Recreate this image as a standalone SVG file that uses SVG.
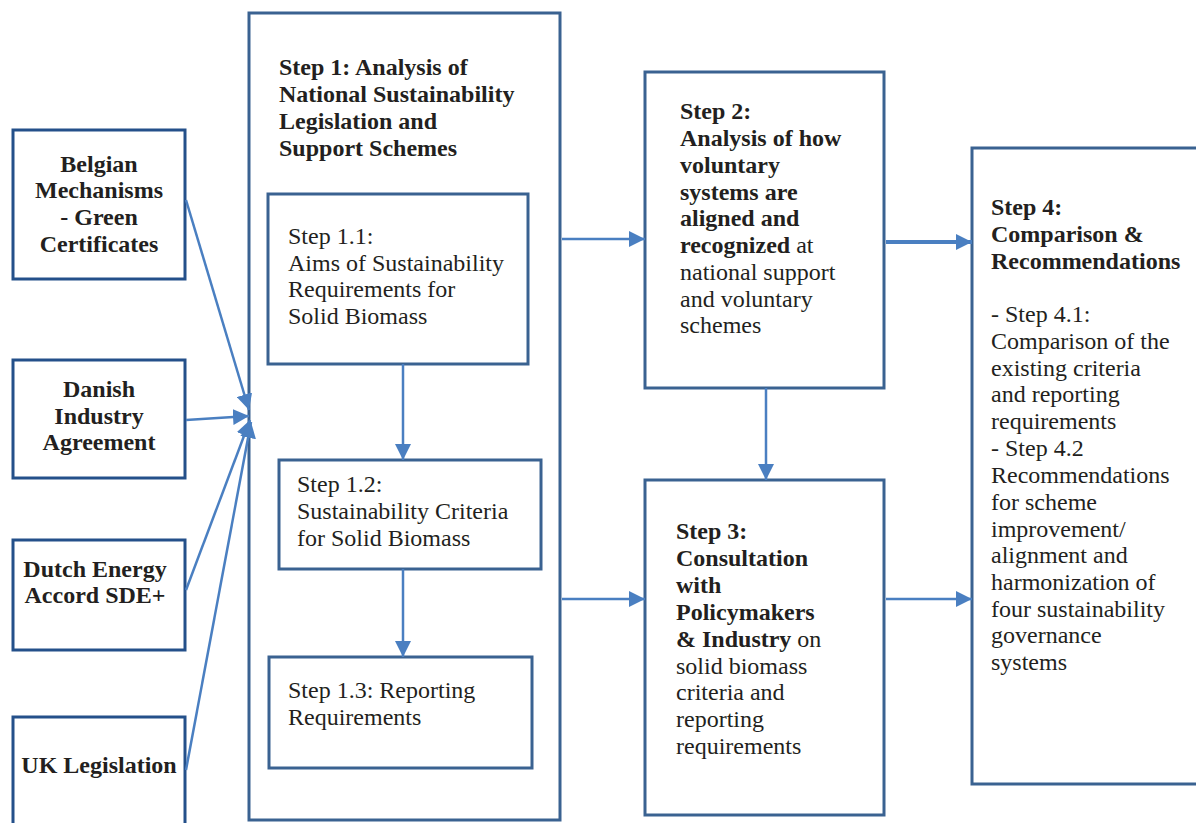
<svg xmlns="http://www.w3.org/2000/svg" width="1196" height="823" viewBox="0 0 1196 823">
<defs>
<style>
.box{fill:#fff;stroke:#3a6291;stroke-width:3}
.src{fill:#fff;stroke:#24508a;stroke-width:3}
.c{stroke:#4a7fc1;stroke-width:2.5;fill:none;marker-end:url(#ah)}
text{font-family:"Liberation Serif","Times New Roman",serif;font-size:24px;fill:#231f20}
.b{font-weight:bold}
.m{text-anchor:middle}
</style>
<marker id="ah" markerUnits="userSpaceOnUse" markerWidth="18" markerHeight="16" refX="16" refY="8" orient="auto">
<path d="M0,0 L16,8 L0,16 Z" fill="#4a7fc1"/>
</marker>
</defs>
<rect width="1196" height="823" fill="#fff"/>
<g id="belgian"><rect class="src" x="13" y="130" width="172" height="149"/>
<text class="b m" x="99"><tspan x="99" y="172">Belgian</tspan><tspan x="99" y="198">Mechanisms</tspan><tspan x="99" y="225">- Green</tspan><tspan x="99" y="252">Certificates</tspan></text></g>
<g id="danish"><rect class="src" x="13" y="360" width="172" height="118"/>
<text class="b m" x="99"><tspan x="99" y="397">Danish</tspan><tspan x="99" y="424">Industry</tspan><tspan x="99" y="450">Agreement</tspan></text></g>
<g id="dutch"><rect class="src" x="13" y="540" width="172" height="110"/>
<text class="b m" x="95"><tspan x="95" y="577">Dutch Energy</tspan><tspan x="95" y="603">Accord SDE+</tspan></text></g>
<g id="uk"><rect class="src" x="13" y="717" width="172" height="120"/>
<text class="b m" x="99" y="773">UK Legislation</text></g>
<g id="step1"><rect class="box" x="249" y="13" width="311" height="807"/>
<text class="b" x="279"><tspan x="279" y="75">Step 1: Analysis of</tspan><tspan x="279" y="102">National Sustainability</tspan><tspan x="279" y="129">Legislation and</tspan><tspan x="279" y="156">Support Schemes</tspan></text></g>
<g id="step1_1"><rect class="box" x="268" y="194" width="260" height="170"/>
<text x="288"><tspan x="288" y="244">Step 1.1:</tspan><tspan x="288" y="271">Aims of Sustainability</tspan><tspan x="288" y="297">Requirements for</tspan><tspan x="288" y="324">Solid Biomass</tspan></text></g>
<g id="step1_2"><rect class="box" x="279" y="460" width="262" height="109"/>
<text x="297"><tspan x="297" y="492">Step 1.2:</tspan><tspan x="297" y="519">Sustainability Criteria</tspan><tspan x="297" y="546">for Solid Biomass</tspan></text></g>
<g id="step1_3"><rect class="box" x="269" y="657" width="263" height="111"/>
<text x="288"><tspan x="288" y="698">Step 1.3: Reporting</tspan><tspan x="288" y="725">Requirements</tspan></text></g>
<g id="step2"><rect class="box" x="645" y="72" width="239" height="316"/>
<text x="680"><tspan class="b" x="680" y="119">Step 2:</tspan><tspan class="b" x="680" y="146">Analysis of how</tspan><tspan class="b" x="680" y="173">voluntary</tspan><tspan class="b" x="680" y="200">systems are</tspan><tspan class="b" x="680" y="226">aligned and</tspan><tspan class="b" x="680" y="253">recognized</tspan><tspan> at</tspan><tspan x="680" y="280">national support</tspan><tspan x="680" y="307">and voluntary</tspan><tspan x="680" y="333">schemes</tspan></text></g>
<g id="step3"><rect class="box" x="645" y="480" width="239" height="335"/>
<text x="676"><tspan class="b" x="676" y="539">Step 3:</tspan><tspan class="b" x="676" y="566">Consultation</tspan><tspan class="b" x="676" y="593">with</tspan><tspan class="b" x="676" y="620">Policymakers</tspan><tspan class="b" x="676" y="647">&amp; Industry</tspan><tspan> on</tspan><tspan x="676" y="674">solid biomass</tspan><tspan x="676" y="700">criteria and</tspan><tspan x="676" y="727">reporting</tspan><tspan x="676" y="754">requirements</tspan></text></g>
<g id="step4"><rect class="box" x="972" y="148" width="240" height="636"/>
<text x="991"><tspan class="b" x="991" y="215">Step 4:</tspan><tspan class="b" x="991" y="242">Comparison &amp;</tspan><tspan class="b" x="991" y="269">Recommendations</tspan><tspan x="991" y="322">- Step 4.1:</tspan><tspan x="991" y="349">Comparison of the</tspan><tspan x="991" y="376">existing criteria</tspan><tspan x="991" y="402">and reporting</tspan><tspan x="991" y="429">requirements</tspan><tspan x="991" y="456">- Step 4.2</tspan><tspan x="991" y="483">Recommendations</tspan><tspan x="991" y="510">for scheme</tspan><tspan x="991" y="537">improvement/</tspan><tspan x="991" y="563">alignment and</tspan><tspan x="991" y="590">harmonization of</tspan><tspan x="991" y="617">four sustainability</tspan><tspan x="991" y="643">governance</tspan><tspan x="991" y="670">systems</tspan></text></g>
<g id="connectors">
<line class="c" x1="186" y1="200" x2="249" y2="410"/>
<line class="c" x1="186" y1="420" x2="249" y2="416"/>
<line class="c" x1="186" y1="590" x2="250" y2="420"/>
<line class="c" x1="186" y1="770" x2="251" y2="422"/>
<line class="c" x1="562" y1="239" x2="645" y2="239"/>
<line class="c" x1="562" y1="599" x2="645" y2="599"/>
<line class="c" x1="403" y1="364" x2="403" y2="460"/>
<line class="c" x1="403" y1="569" x2="403" y2="657"/>
<line class="c" x1="766" y1="388" x2="766" y2="480"/>
<line class="c" x1="886" y1="242" x2="972" y2="242" style="stroke-width:4"/>
<line class="c" x1="886" y1="599" x2="972" y2="599"/>
</g>
</svg>
